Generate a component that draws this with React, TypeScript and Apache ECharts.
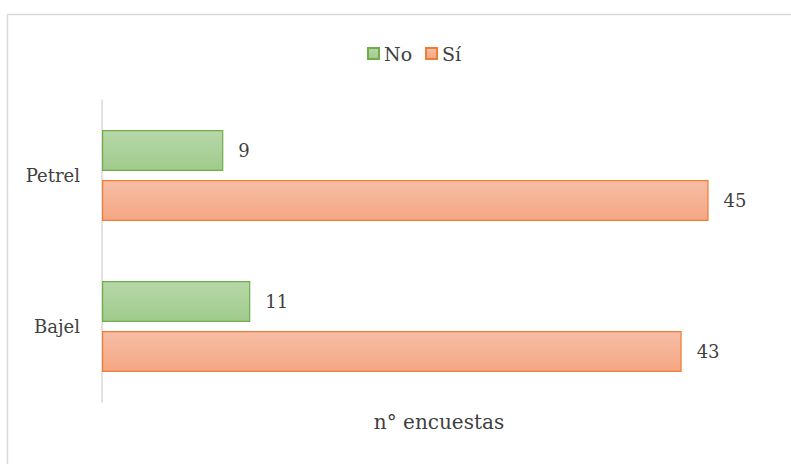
import React, { useEffect, useRef } from "react";
import * as echarts from "echarts";

const categories = ["Bajel", "Petrel"];
const seriesNo = [11, 9];
const seriesSi = [43, 45];
const legendNames = ["No", "Sí"];
const axisTitle = "n° encuestas";

export default function App() {
  const ref = useRef<HTMLDivElement>(null);
  useEffect(() => {
    if (!ref.current) return;
    const chart = echarts.init(ref.current, null, { renderer: "svg" });
    const font = "DejaVu Serif";
    const grad = (top: string, bottom: string) =>
      new echarts.graphic.LinearGradient(0, 0, 0, 1, [
        { offset: 0, color: top },
        { offset: 1, color: bottom },
      ]);
    const label = {
      show: true,
      position: "right" as const,
      distance: 15,
      fontSize: 18,
      color: "#404040",
      fontFamily: font,
    };
    chart.setOption({
      animation: false,
      backgroundColor: "#ffffff",
      textStyle: { fontFamily: font },
      graphic: [
        {
          type: "rect",
          shape: { x: 7.5, y: 14.5, width: 820, height: 480 },
          style: { fill: "none", stroke: "#d9d9d9", lineWidth: 1.5 },
          silent: true,
        },
      ],
      legend: {
        data: legendNames,
        top: 39,
        left: 362,
        itemWidth: 11,
        itemHeight: 11,
        itemGap: 13,
        icon: "rect",
        textStyle: { fontSize: 19, color: "#404040", fontFamily: font },
      },
      grid: { left: 102, top: 100, width: 674, height: 302, containLabel: false },
      xAxis: {
        type: "value",
        min: 0,
        max: 50,
        axisLabel: { show: false },
        axisLine: { show: false },
        axisTick: { show: false },
        splitLine: { show: false },
        name: axisTitle,
        nameLocation: "middle",
        nameGap: 10,
        nameTextStyle: { fontSize: 20, color: "#404040", fontFamily: font, verticalAlign: "top" },
      },
      yAxis: {
        type: "category",
        data: categories,
        axisLine: { show: true, lineStyle: { color: "#d9d9d9", width: 1.5 } },
        axisTick: { show: false },
        axisLabel: { fontSize: 18, color: "#404040", fontFamily: font, margin: 22 },
      },
      series: [
        {
          name: "No",
          type: "bar",
          data: seriesNo,
          barWidth: 41,
          barGap: "22%",
          itemStyle: {
            color: grad("#b7d7a9", "#a0cb8c"),
            borderColor: "#70ad47",
            borderWidth: 1.2,
          },
          label,
        },
        {
          name: "Sí",
          type: "bar",
          data: seriesSi,
          barWidth: 41,
          barGap: "22%",
          itemStyle: {
            color: grad("#f7bea6", "#f4a683"),
            borderColor: "#ed7d31",
            borderWidth: 1.2,
          },
          label,
        },
      ],
    });
    return () => chart.dispose();
  }, []);
  return (
    <div
      ref={ref}
      style={{ position: "absolute", left: 0, top: 0, width: 791, height: 464 }}
    />
  );
}
